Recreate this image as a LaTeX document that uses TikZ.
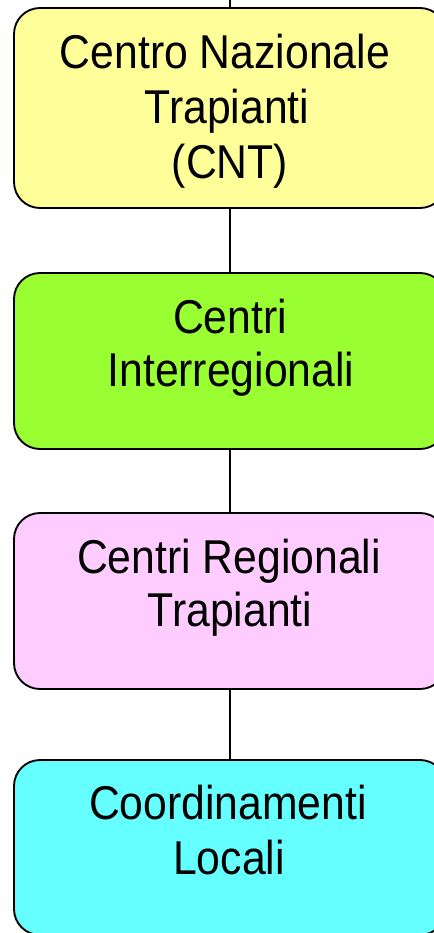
\documentclass[tikz,border=0pt]{standalone}
\usepackage{fontspec}
\setmainfont[FakeStretch=0.9]{Liberation Sans}
\definecolor{cyellow}{RGB}{255,255,153}
\definecolor{cgreen}{RGB}{153,255,51}
\definecolor{cpink}{RGB}{255,204,255}
\definecolor{ccyan}{RGB}{102,255,255}
\begin{document}
\begin{tikzpicture}[x=0.75pt,y=-0.75pt,
  box/.style={draw=black,line width=1.4pt,rounded corners=19.5pt,minimum width=324pt,inner sep=0pt},
  lbl/.style={anchor=base,inner sep=0pt,font=\fontsize{35.6pt}{40.5pt}\selectfont},
  conn/.style={draw=black,line width=1pt}]
\useasboundingbox (0,0) rectangle (434,933);
\clip (0,0) rectangle (434,933);
\fill[white] (0,0) rectangle (434,933);
\node[box,fill=cyellow,minimum height=150pt] (b1) at (230,108) {};
\node[box,fill=cgreen,minimum height=132pt] (b2) at (230,361) {};
\node[box,fill=cpink,minimum height=132pt] (b3) at (230,601) {};
\node[box,fill=ccyan,minimum height=131.25pt] (b4) at (230,847.5) {};
\coordinate (top) at (230,0);
\draw[conn] (top) -- (b1.north);
\draw[conn] (b1.south) -- (b2.north);
\draw[conn] (b2.south) -- (b3.north);
\draw[conn] (b3.south) -- (b4.north);
\node[lbl] (t1a) at (225,68) {Centro Nazionale};
\node[lbl] (t1b) at (227,123) {Trapianti};
\node[lbl] (t1c) at (230,178) {(CNT)};
\node[lbl] (t2a) at (230,333) {Centri};
\node[lbl] (t2b) at (231,386) {Interregionali};
\node[lbl] (t3a) at (229,573) {Centri Regionali};
\node[lbl] (t3b) at (230,626) {Trapianti};
\node[lbl] (t4a) at (228,819) {Coordinamenti};
\node[lbl] (t4b) at (229,874) {Locali};
\end{tikzpicture}
\end{document}
